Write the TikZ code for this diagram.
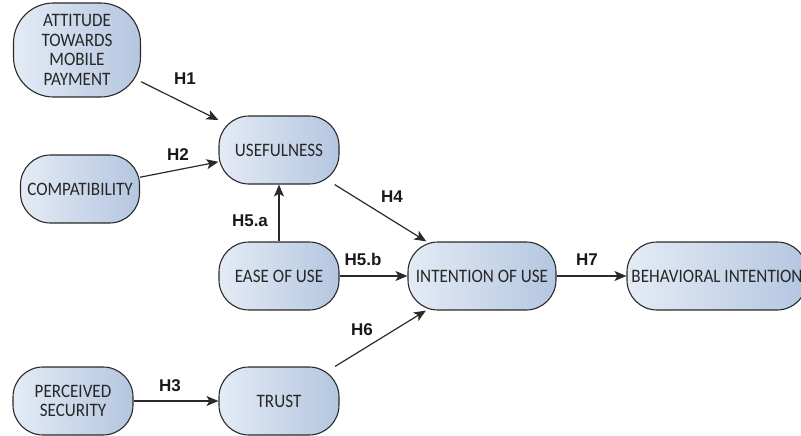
\documentclass[tikz,border=0pt]{standalone}
\usepackage{fontspec}
\setmainfont{Carlito}
\newfontfamily\nodefont[FakeStretch=0.9]{Carlito}
\newfontfamily\lblfont{Liberation Sans}
\usetikzlibrary{arrows.meta}
\definecolor{nodeL}{HTML}{E4EBF5}
\definecolor{nodeR}{HTML}{B4C6E0}
\definecolor{edge}{HTML}{2A2A2A}
\begin{document}
\begin{tikzpicture}[x=1pt,y=-1pt,
  concept/.style={draw=edge, line width=1.1pt, rounded corners=30pt,
    minimum width=120pt, minimum height=68pt, inner sep=0pt,
    left color=nodeL, right color=nodeR, text=black!85, align=center,
    font=\nodefont\fontsize{19}{19.7}\selectfont},
  hyp/.style={font=\lblfont\bfseries\fontsize{17}{20}\selectfont, inner sep=0pt, text=black!90},
  link/.style={draw=edge, line width=1.2pt, -{Stealth[length=12pt,width=10pt,inset=3pt]}}]
\useasboundingbox (0,0) rectangle (801,436);

\node[concept, minimum width=127pt, minimum height=94pt, rounded corners=40pt] (att) at (77,50) {ATTITUDE\\TOWARDS\\MOBILE\\PAYMENT};
\node[concept, minimum width=119pt] (comp) at (80,189) {COMPATIBILITY};
\node[concept] (use) at (279,150) {USEFULNESS};
\node[concept] (ease) at (279,276) {EASE OF USE};
\node[concept, minimum width=148pt] (int) at (482,276) {INTENTION OF USE};
\node[concept, minimum width=180pt] (beh) at (717,276) {BEHAVIORAL INTENTION};
\node[concept] (per) at (73,401) {PERCEIVED\\SECURITY};
\node[concept] (trust) at (279,401) {TRUST};

\draw[link] (att) -- (use);
\draw[link] (comp) -- (use);
\draw[link] (ease) -- (use);
\draw[link] (use) -- (int);
\draw[link] (ease) -- (int);
\draw[link] (trust) -- (int);
\draw[link] (int) -- (beh);
\draw[link] (per) -- (trust);

\node[hyp] (h1) at (185,79) {H1};
\node[hyp] (h2) at (178,155) {H2};
\node[hyp] (h3) at (170,386) {H3};
\node[hyp] (h4) at (392,197) {H4};
\node[hyp] (h5a) at (250,221) {H5.a};
\node[hyp] (h5b) at (363,259) {H5.b};
\node[hyp] (h6) at (362,330) {H6};
\node[hyp] (h7) at (587,260) {H7};
\end{tikzpicture}
\end{document}
